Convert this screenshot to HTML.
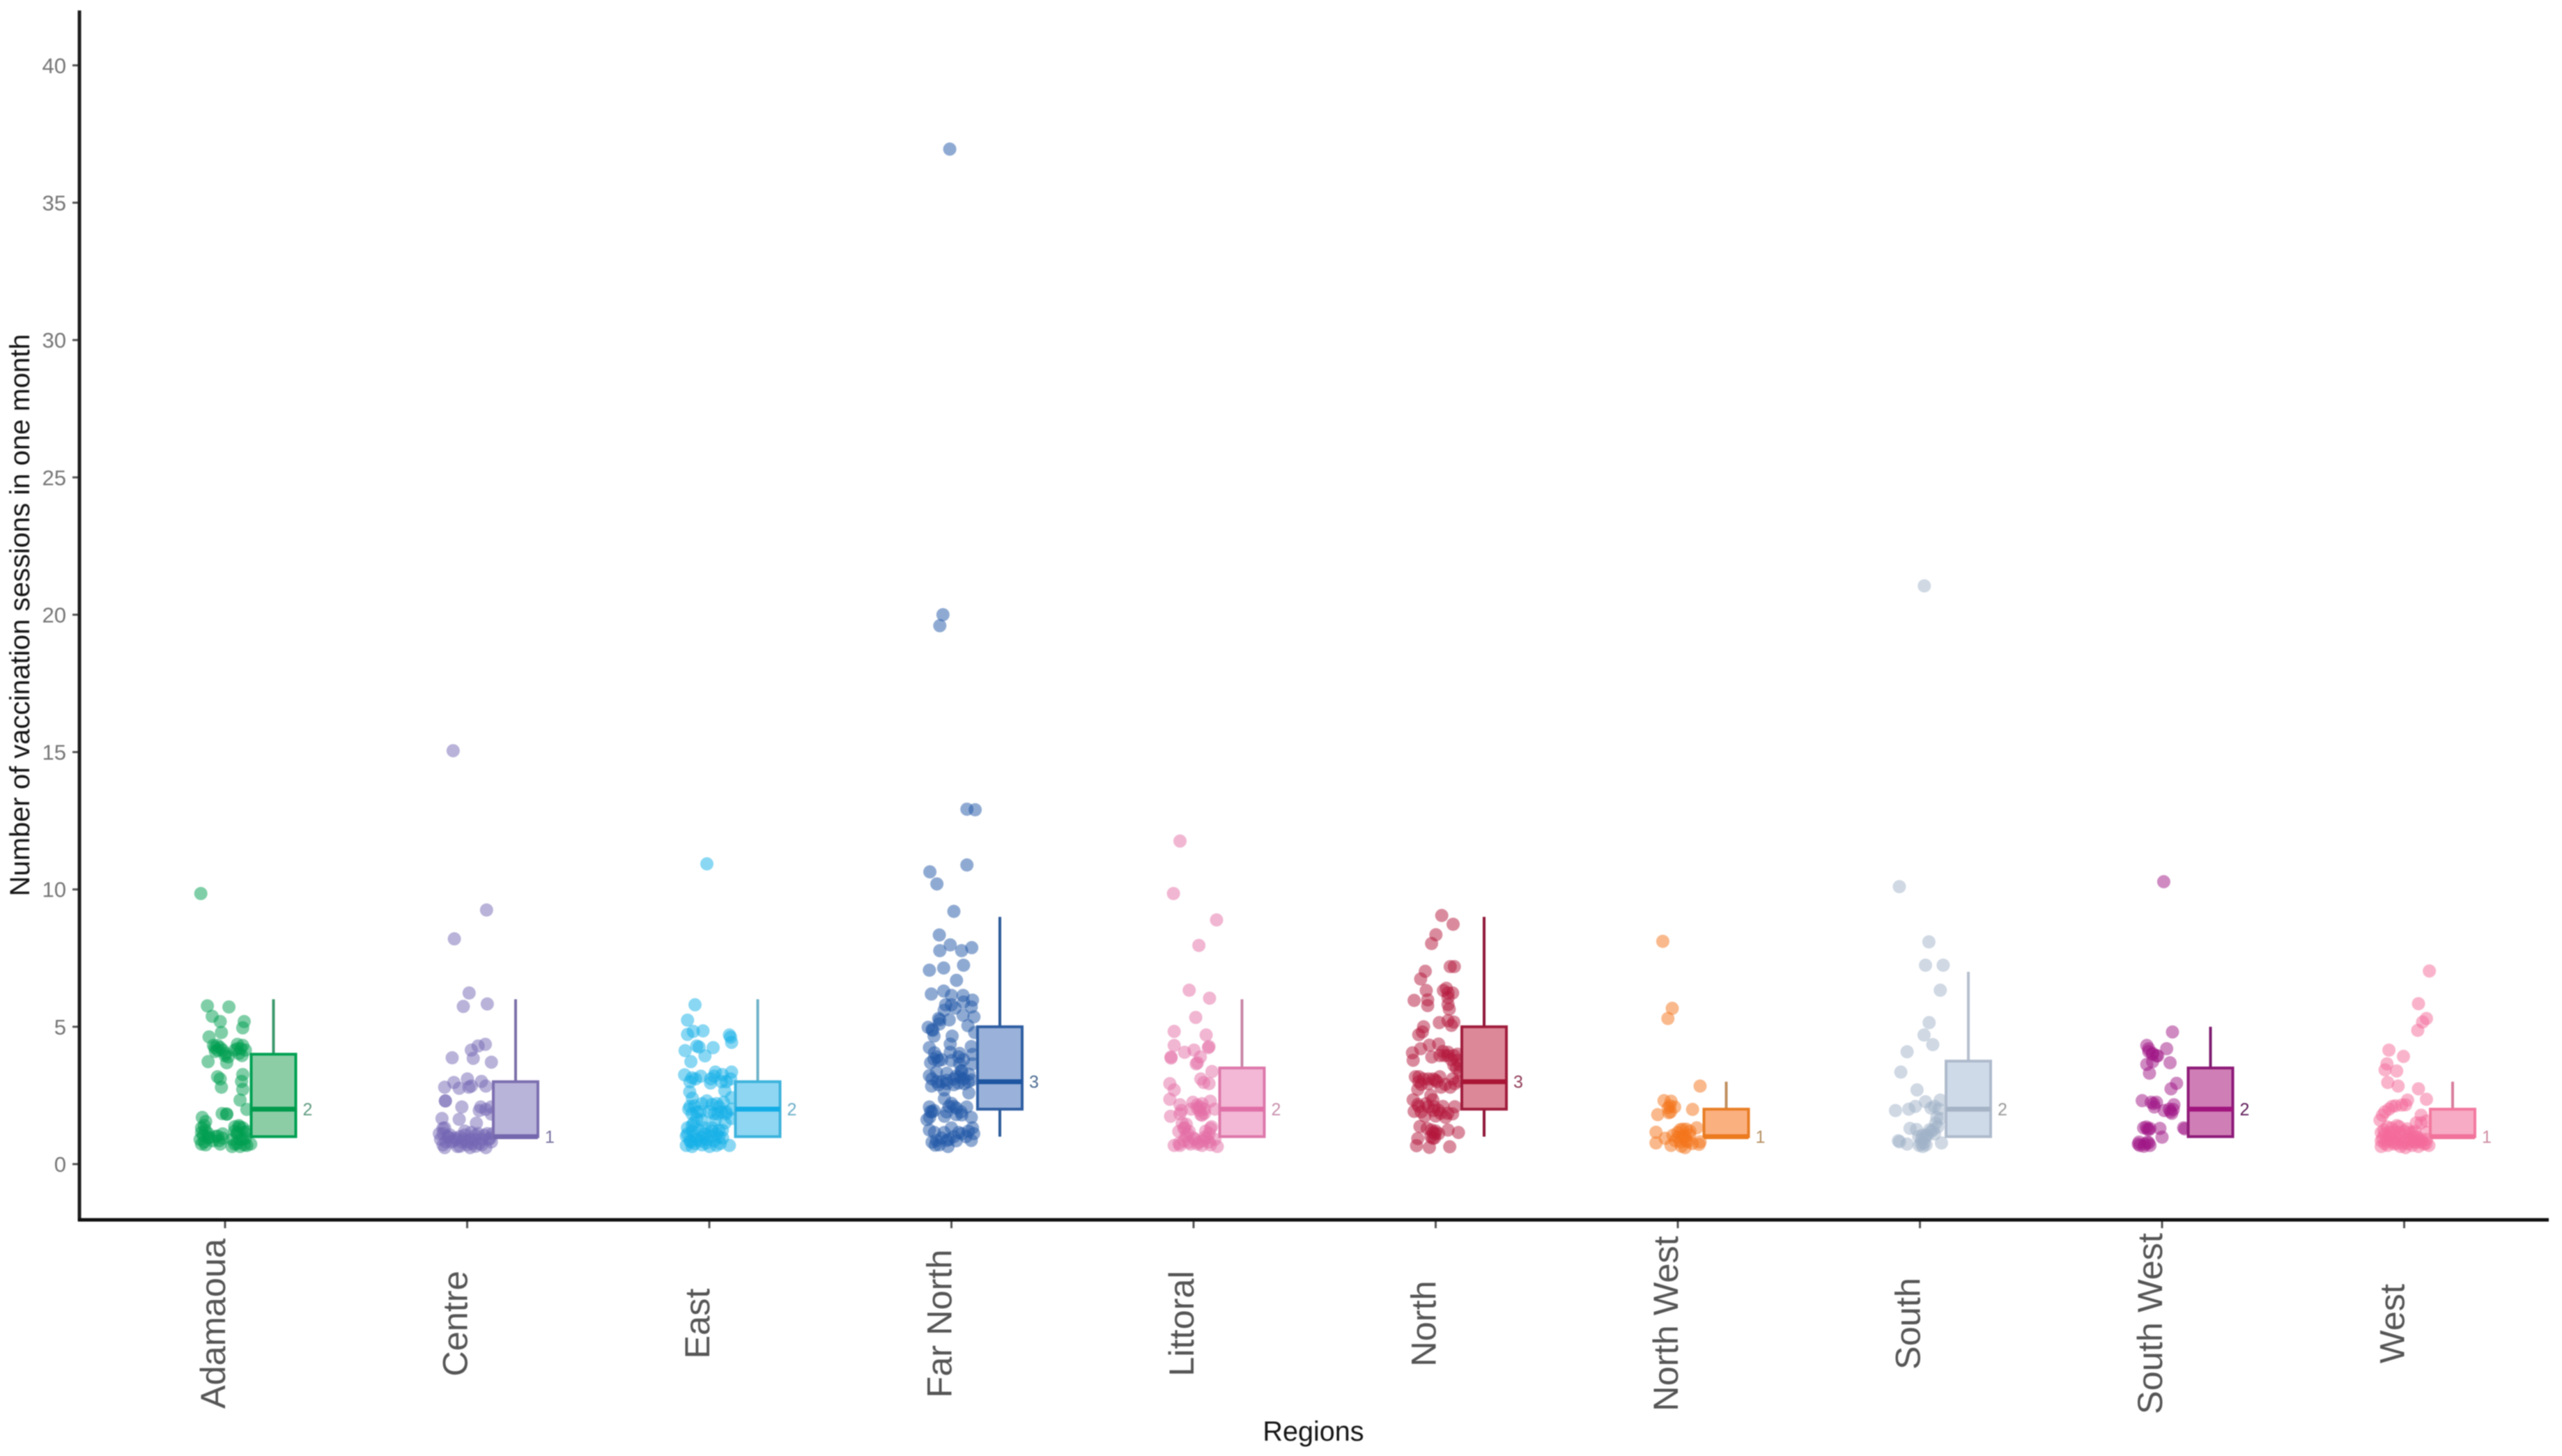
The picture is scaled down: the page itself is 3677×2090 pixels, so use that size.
<!DOCTYPE html>
<html lang="en">
<head>
<meta charset="utf-8">
<title>Number of vaccination sessions in one month by region</title>
<style>
html,body{margin:0;padding:0;background:#fff;}
body{width:3677px;height:2090px;overflow:hidden;}
svg{display:block;font-family:"Liberation Sans",sans-serif;filter:blur(0.8px);}
</style>
</head>
<body>
<svg id="chart" xmlns="http://www.w3.org/2000/svg" width="3677" height="2090" viewBox="0 0 3677 2090">
  <rect x="0" y="0" width="3677" height="2090" fill="#ffffff"></rect>
  <g id="points"></g>
  <g id="boxes"></g>
  <g id="axes"></g>
  <text transform="translate(42 883) rotate(-90)" text-anchor="middle" font-size="40" fill="#151515">Number of vaccination sessions in one month</text>
  <text x="1885" y="2068" text-anchor="middle" font-size="39.6" fill="#151515">Regions</text>
</svg>
<script>
const categories = ["Adamaoua","Centre","East","Far North","Littoral","North","North West","South","South West","West"];
const yTicks = [0,5,10,15,20,25,30,35,40];

const q1s = [1,1,1,2,1,2,1,1,1,1];
const medians = [2,1,2,3,2,3,1,2,2,1];
const q3s = [4,3,3,5,3.5,5,2,3.75,3.5,2];
const whiskerLows = [1,1,1,1,1,1,1,1,1,1];
const whiskerHighs = [6,6,6,9,6,9,3,7,5,3];

const adamaouaJitter = [-7.3,1.6,-5.3,-2,7.9,7.3,-1.5,-6.6,-4.8,-2,0.2,1.3,5.1,7.3,5.7,8.4,-4.2,-3.1,4,-7,0.7,-3.1,-2,7.3,6.8,7.3,-1.5,6.2,9,-1.2,0.7,0.7,-9.4,-8.6,-9.7,-7,-8.6,-9.7,-3.1,-0.9,-2,4,7.3,5.1,9,4,6.2,9,7.3,2.9,10.6,-10.3,-8.1,-6.4,-9.7,6.2,8.4,5.7,-10,-8,-7,-9,-5,-4,-2.5,-1,3,5,5,8,8,4,6,-8,-4,-3,0,5,6.5,7,-1];
const adamaouaValues = [5.76,5.72,5.38,5.19,5.19,4.96,4.79,4.63,4.32,4.24,4.03,3.9,4.36,4.32,4.03,4.15,4.24,4.32,4.15,3.73,3.69,3.18,3.1,3.26,3.01,2.72,2.8,2.33,1.99,1.84,1.82,1.82,1.7,1.4,1.15,1.11,0.81,0.73,1.02,0.94,0.73,1.36,1.32,1.15,1.19,0.73,0.64,0.68,0.9,0.64,0.73,0.9,1.23,0.98,1.32,0.9,0.94,1.4,9.85,0.7,0.95,1.05,0.85,1,0.85,1.1,0.9,0.75,1.1,1.15,0.7,1.2,1.35,1.55,4.1,4.15,3.95,4.2,4.2,3.95,4.15];

const centreJitter = [0.8,-1.6,8.3,7.5,4.5,1.7,-6.2,2.5,10,0.1,-5.5,5.9,-9.3,-3.3,0.7,1.7,7.7,-9,-9,-2.2,5.6,5,7.7,9.9,10,-3.3,-10.4,3.8,-9.3,-9.9,-7.1,-4.4,-1,1.7,4.5,8.3,10.5,-8.8,-5.5,-2.2,1.2,3.4,6.1,8.9,-9.3,-4,1.2,7.7,0.1,-7.7,-11.5,10,-5.8,-5.3,8,-11,-10,-8,-6.5,-5,-3,-1.5,0,-3,2,3.5,5,7,-1,-10,9.5,6,3.5];
const centreValues = [6.23,5.74,5.83,4.36,4.3,4.15,3.87,3.85,3.71,3.1,2.97,3.01,2.8,2.76,2.8,2.84,2.84,2.3,2.3,2.08,2.08,1.95,1.99,2.08,1.82,1.63,1.66,1.49,1.32,1.11,1.06,0.9,1.06,1.15,1.11,1.11,1.11,0.81,0.85,0.81,0.9,0.9,0.9,0.9,0.6,0.64,0.6,0.6,0.81,0.98,1.11,0.81,15.05,8.2,9.25,0.9,0.7,1,0.8,0.95,1,0.9,0.7,0.65,0.75,1.05,0.75,1.05,1.2,1.3,0.95,0.7,0.65];

const eastJitter = [-5.9,-9,-9,-6.6,-2.6,8.3,8.8,9.2,-10,-5.2,-4.2,-1.8,1.6,-7.6,-10.2,-7.1,-5.7,0.6,2.5,5.4,9.2,8.8,-8.1,6.4,9.2,-8.5,-6.1,-3.7,-5.2,-7.1,1.1,4,5.9,3.5,6.8,9.2,9.2,2,-9,-7.1,-4.2,-1.8,1.1,4,5.4,-9.5,-6.1,-2.8,0.6,4,-9.5,-7.1,-3.7,0.1,3,8.3,-7.6,-1.3,-1,-8,-5,-3,-6.5,-3,0,2.5,5,6.5,-9,-7,-5,-2,1,3,5.5,-8,-6,-3,-1,2,4.5,7,3,-7,-1,5,2,-3.5,-8,7,0.5];
const eastValues = [5.8,5.24,4.72,4.83,4.85,4.7,4.62,4.43,4.13,4.3,4.26,3.94,4.24,3.73,3.25,3.14,3.1,3.1,3.35,3.26,3.35,3.1,2.63,2.67,2.42,2,2.12,1.91,1.66,1.83,2.17,2.08,2.25,1.83,1.83,2,1.66,1.83,1.32,1.4,1.23,1.32,1.32,1.23,1.23,1.02,1.02,0.98,1.02,0.98,0.68,0.64,0.85,0.64,0.68,0.68,0.81,0.77,10.93,2.1,1.9,2.2,1.5,1.6,1.9,1.6,1.9,1.5,1.1,1.2,0.9,1.1,1.2,1.1,0.95,0.85,0.75,0.7,0.9,0.85,0.75,1.9,2.2,2.4,2.3,3,3.2,3.2,3,3,2.95];

const farNorthJitter = [1,-5,-4.8,-0.5,4.2,8.4,-9.1,-3.2,5,2.1,-8.3,-3.2,0,4.8,8.7,-2.4,1.5,8.2,4.8,9.3,-5.3,-4.8,-0.9,6.8,-9.6,-7.7,-7.2,0.3,9.6,-0.5,-9.1,8.2,-0.5,3.4,8.7,-7.2,-5.3,-8.6,0,3.4,8.7,-6.2,-9.1,-1.9,4.3,7.2,3.4,-8.2,-5.3,-1.9,1,5.3,8.2,7.2,-2.9,0,2,6.3,-9.1,-7.2,-8.6,-2.9,4.3,-10.1,8.2,-9.1,0,8.7,-6.2,-1.4,1,4.3,8.2,-1.9,-6.7,9.2,6.4,9.8,-8.9,6.4,-6,-3.5,-4.8,-0.7,-8,-6,-4,-2,1,3,5,7,-7,-6,-4,3,5,4,2,-3,-5,-8,-2,-1,1,2,4,-8,-9,-7,-4,-3,-1,2,3,6,7,-8,-5,5,0,-3];
const farNorthValues = [9.2,8.34,7.77,7.98,7.77,7.88,7.06,7.14,7.24,6.69,6.19,6.3,6.14,6.14,5.97,5.8,5.68,5.72,5.42,5.36,5.3,5.25,5.25,5.04,4.98,4.87,4.66,4.66,4.79,4.37,4.24,4.28,4.07,4.03,3.99,3.82,3.77,3.69,3.77,3.65,3.65,3.35,3.22,3.31,3.39,3.27,3.18,2.84,2.89,2.93,2.89,2.93,3.06,2.59,2.38,2.21,2.04,2.08,2.08,1.95,1.91,1.74,1.79,1.62,1.7,1.24,1.32,1.32,0.86,0.64,1,1.11,0.86,0.86,0.69,1.11,12.92,12.9,10.64,10.89,10.2,20,19.6,36.95,3.1,3,3,3.05,3.1,2.95,3.1,3,4.05,3.9,3.8,3.9,3.8,3.4,3.2,5.6,5.1,4.9,1.9,2.1,2.1,1.8,1.9,1.9,1.7,1.15,0.95,1.15,0.9,0.85,1.15,1,1.2,0.8,0.7,5.9,5.8,2.7];

const littoralJitter = [-1.8,6.6,0.9,-8,5.2,-8,6.1,6.4,-3.7,0.2,-9.3,-9.3,2.8,1.1,1.6,7.6,3,4.2,6.4,-9.8,-8,-9.8,-5.6,-0.3,6.9,1.6,4.5,2.6,-9.5,-5.6,3.5,8.8,-3.7,-6.1,-4.7,-1.8,7.4,6.4,0.6,4.5,-8,-5.6,-1.3,1.6,3.5,6.4,9.8,8.8,-3.2,-5.6,-8.3,9.5,2.2,-6,-4,-2,0,2,4,5.5,7,-4,-3,-2.5,5,7,1.5,3.5,3,4.5,-5,-1,2.5];
const littoralValues = [6.33,6.04,5.34,4.83,4.7,4.32,4.24,4.28,4.07,4.15,3.9,3.86,3.9,3.65,3.69,3.37,3.1,2.97,2.93,2.93,2.7,2.36,2.16,2.25,2.29,2.04,2,2.08,1.74,1.83,1.78,2,1.32,1.19,1.49,1.19,1.36,1.11,0.9,0.98,0.68,0.68,0.73,0.73,0.68,0.81,0.64,0.9,1.02,11.76,9.85,8.89,7.96,0.75,0.85,0.8,0.95,0.8,0.85,0.95,0.7,1.3,1.45,1.1,1.2,1.3,2.15,2.2,1.8,1.85,1.95,2,1.95];

const northJitter = [2.5,7.2,0.1,-1.7,6,7.7,-4.3,-6.2,-3.9,4.4,3.2,7,5.1,-8.9,-3.3,-3.3,5.1,5.1,5.6,1.5,5.1,7.5,6.5,-5,-7,-5.5,1.2,-2.6,-6.2,-9.6,-9.3,-1.6,1.7,5.1,7.5,8.9,3.6,9.9,9.9,-8.4,-6.9,1.7,-0.2,-3.1,7.9,9.4,6,-7.4,2.2,-9.3,-7.4,-1.2,-0.7,7.9,-8.9,-3.1,1.2,-4.5,4.1,7,-6.5,5.1,9.4,-7.4,-1.7,-0.2,1.2,-1.2,-7.9,-2.6,5.8,-6,-5,-3,-1,0.5,4,7,3,5,6.5,7.5,8.5,9,-7,-6,-4,-2,-1,0,2,3,5,-2,-0.5,0,-1,-3.5,-7];
const northValues = [9.05,8.73,8.35,8.03,7.19,7.19,7.02,6.74,6.32,6.4,6.32,6.23,6.23,5.96,5.98,5.77,6.06,5.81,5.64,5.15,5.22,5.17,5.05,5,4.71,4.81,4.37,4.33,4.2,4.05,3.78,3.9,3.95,4.07,3.95,3.78,3.95,3.61,3.35,3.18,3.18,3.18,3.06,2.93,2.93,3.02,2.8,2.72,2.8,2.34,2.17,2.34,2.09,2.09,1.92,2.09,1.96,1.75,1.7,1.83,1.37,1.24,1.15,0.93,1.24,1.11,1.11,0.94,0.67,0.61,0.63,2.9,3.1,3.1,3.1,3,2.9,3.1,4.1,3.95,3.8,3.6,3.5,4,2.1,1.9,2.2,2.5,1.95,1.75,1.85,2.1,1.85,1,0.95,1.2,1.15,1.3,3];

const northWestJitter = [9.2,-5.7,-2.8,-3.3,-1.3,-3.7,-8.3,6.1,-9,-9,-5.2,-2.8,3,2,3.5,7.8,0.1,3,4.9,1.1,4,8.8,9.2,-6.2,-2.3,-4.1,0,1,2,3.5,-1,5,1.5,6,-2,-4,-3];
const northWestValues = [2.84,2.31,2.29,2.12,2.08,1.87,1.8,1.99,1.16,0.77,0.94,0.68,0.6,1.27,1.27,1.32,0.98,1.02,1.06,0.81,0.81,0.72,0.81,8.11,5.67,5.3,1.15,1.25,1,0.85,0.85,1.2,0.65,0.75,1.05,2.05,1.9];

const southJitter = [2.3,9.6,8.4,3.8,1.7,5.3,-5.3,-7.9,-1.2,2.3,8.4,-1.9,-4.6,-10.1,4.6,7.9,8.4,-4.1,-1.4,7.4,4.6,2.6,-8.9,-8.4,-5.3,0.7,1.7,-0.3,1.2,8.9,6.5,-8.5,3.7,1.8,2,3,1,4,5.5,0.5,2.5,6,7,-0.5,6];
const southValues = [7.24,7.24,6.33,5.15,4.7,4.35,4.09,3.35,2.7,2.27,2.33,2.1,2,1.95,2.04,2,1.66,1.3,1.26,1.36,1.19,1.06,0.85,0.81,0.73,0.9,0.77,0.68,0.64,0.77,1.49,10.1,8.09,21.05,0.95,1.05,1.05,1.25,1.25,0.75,0.7,1.1,1.7,1,2.1];

const southWestJitter = [4.3,-6.3,-5.5,1.9,-3.9,-1.8,-2.3,-6.3,-3.9,3.3,-5.2,6,3.7,-8.2,-4.5,-2.3,-3.2,4.9,0.9,3.5,4.6,-7.6,-5,-0.9,-6,0,8.9,9.4,-9.8,-7.1,-5,-9.2,-5.5,0.7,-9.5,-7.5,-6,-6.5,-5.5,-3.5,3,4,-5.5,-4];
const southWestValues = [4.81,4.32,4.2,4.2,4.03,3.94,3.94,3.63,3.73,3.69,3.31,2.94,2.74,2.31,2.25,2.25,2.08,2.16,1.95,1.91,1.99,1.32,1.3,1.3,1.28,0.98,1.32,1.28,0.73,0.73,0.68,0.68,0.77,10.28,0.8,0.65,0.8,1.35,1.25,2.2,2,1.85,4.1,4];

const westJitter = [10.4,5.9,9.2,7.6,5.6,-6.3,-0.3,-7.1,-7.9,-3.1,-6.8,-2.5,5.9,9.2,1.4,-3.6,-6.3,-9,0.6,7,9.2,-8.4,-5.2,-2,1.2,4.4,-8.9,-6.3,-3.6,-1,2.2,5.4,9.2,-9.5,-6.8,-4.2,-1.5,0.6,3.3,5.9,10.2,8.1,-7.3,-4.7,-2.5,0.1,4.1,7.1,3.3,-8,-6,-4,-2,0,2,4,6,-9.5,-8,-5.5,-3,-0.5,1.5,3,5,7,9,-7,-3,-9.5,-10,-5,-1,7,5,9,-8];
const westValues = [7.03,5.84,5.3,5.17,4.87,4.15,3.92,3.65,3.43,3.39,2.97,2.84,2.74,2.36,2.33,2.12,2,1.78,2.16,1.78,1.57,1.23,1.32,1.36,1.28,1.19,0.94,1.02,0.98,1.06,0.94,0.98,0.9,0.64,0.68,0.73,0.64,0.6,0.68,0.64,0.68,0.73,0.85,0.81,0.9,0.85,0.81,0.81,1.15,1.1,1.15,1.2,1.15,1.2,1.15,1,0.85,0.85,0.75,0.9,0.75,0.75,0.75,0.85,0.8,0.9,0.75,1.35,1.4,1.15,1.6,2.1,2.15,1.5,1.5,1.15,1.9];

const jitterSeries = [adamaouaJitter,centreJitter,eastJitter,farNorthJitter,littoralJitter,northJitter,northWestJitter,southJitter,southWestJitter,westJitter];
const valueSeries = [adamaouaValues,centreValues,eastValues,farNorthValues,littoralValues,northValues,northWestValues,southValues,southWestValues,westValues];

const pointColors = ["#009e4f","#7465b3","#14afe8","#1f55a6","#e46ea6","#b3173c","#f4741a","#a0b2c8","#a01585","#f3699a"];
const boxFills = ["#8dcda6","#b8b3d9","#8fd6f2","#9ab2d9","#f3b8d5","#dd8898","#fbb07f","#cfdae8","#d07fb6","#f8abc5"];
const boxStrokes = ["#00a052","#7c6eb0","#3db3dc","#2e5da2","#dd78aa","#a01c3c","#e87d25","#aebacb","#8d1a78","#f3789f"];
const medianColors = ["#009a4c","#7567ae","#12ade6","#1d55a0","#e070a8","#a81535","#ec7a1e","#a5b3c6","#a0157e","#f1729a"];
const whiskerColors = ["#3c9a6e","#7b6fa8","#6fb3c8","#2a5a9a","#c987a8","#8e1535","#c09060","#b4bfcd","#7f1d70","#d97d9c"];
const labelColors = ["#5f9c80","#77719f","#6aaec8","#4a6a90","#c890ad","#8f3a55","#b49060","#9a9a9a","#5e1a58","#cf8ca3"];

const SVG_NS = "http://www.w3.org/2000/svg";
const yZero = 1671, yUnit = 39.43;
const xStart = 323, xStep = 347.5;
const boxOffsetBand = 20, boxHalfWidth = 32;

function yScale(v){ return yZero - yUnit * v; }
function xScale(i, jitterPct){ return xStart + xStep * (i + jitterPct / 100); }
function make(tag, attrs){
  const el = document.createElementNS(SVG_NS, tag);
  for (const k in attrs) el.setAttribute(k, attrs[k]);
  return el;
}
function slug(s){ return s.toLowerCase().replace(/\s+/g, '-'); }

const pointsLayer = document.getElementById('points');
const boxesLayer = document.getElementById('boxes');
const axesLayer = document.getElementById('axes');

categories.forEach(function(cat, i){
  const js = jitterSeries[i], vs = valueSeries[i];
  const group = make('g', {fill: pointColors[i], 'fill-opacity': 0.5});
  
  
  vs.forEach(function(v, k){
    const c = make('circle', {cx: xScale(i, js[k]), cy: yScale(v), r: 9.5});
    
    
    group.appendChild(c);
  });
  pointsLayer.appendChild(group);

  const cx = xScale(i, boxOffsetBand);
  const box = make('g', {});
  
  
  const whiskerUp = make('line', {x1: cx, x2: cx, y1: yScale(q3s[i]), y2: yScale(whiskerHighs[i]), stroke: whiskerColors[i], 'stroke-width': 4});
  
  
  box.appendChild(whiskerUp);
  const whiskerDown = make('line', {x1: cx, x2: cx, y1: yScale(q1s[i]), y2: yScale(whiskerLows[i]), stroke: whiskerColors[i], 'stroke-width': 4});
  
  
  box.appendChild(whiskerDown);
  const rect = make('rect', {x: cx - boxHalfWidth, y: yScale(q3s[i]), width: boxHalfWidth * 2, height: yScale(q1s[i]) - yScale(q3s[i]), fill: boxFills[i], stroke: boxStrokes[i], 'stroke-width': 4});
  
  
  box.appendChild(rect);
  const med = make('line', {x1: cx - boxHalfWidth, x2: cx + boxHalfWidth, y1: yScale(medians[i]), y2: yScale(medians[i]), stroke: medianColors[i], 'stroke-width': 7});
  
  
  box.appendChild(med);
  const lab = make('text', {x: cx + boxHalfWidth + 10, y: yScale(medians[i]) + 9, 'font-size': 25, fill: labelColors[i]});
  
  
  lab.textContent = String(medians[i]);
  box.appendChild(lab);
  boxesLayer.appendChild(box);

  const tick = make('line', {x1: xScale(i, 0), x2: xScale(i, 0), y1: 1751, y2: 1763, stroke: '#555', 'stroke-width': 3});
  
  
  axesLayer.appendChild(tick);
  const catLabel = make('text', {transform: 'translate(' + xScale(i, 0) + ' 1900) rotate(-90)', 'text-anchor': 'middle', 'font-size': 50.5, fill: '#555555'});
  
  
  catLabel.textContent = cat;
  axesLayer.appendChild(catLabel);
});

yTicks.forEach(function(t){
  const tick = make('line', {x1: 104, x2: 114, y1: yScale(t), y2: yScale(t), stroke: '#555', 'stroke-width': 3});
  
  
  axesLayer.appendChild(tick);
  const lab = make('text', {x: 95, y: yScale(t) + 11, 'text-anchor': 'end', 'font-size': 31, fill: '#757575'});
  
  
  lab.textContent = String(t);
  axesLayer.appendChild(lab);
});

const yAxis = make('line', {x1: 114, x2: 114, y1: 15, y2: 1753, stroke: '#1f1f1f', 'stroke-width': 5});


axesLayer.appendChild(yAxis);
const xAxis = make('line', {x1: 112, x2: 3658, y1: 1751, y2: 1751, stroke: '#111', 'stroke-width': 5});


axesLayer.appendChild(xAxis);
</script>
</body>
</html>
